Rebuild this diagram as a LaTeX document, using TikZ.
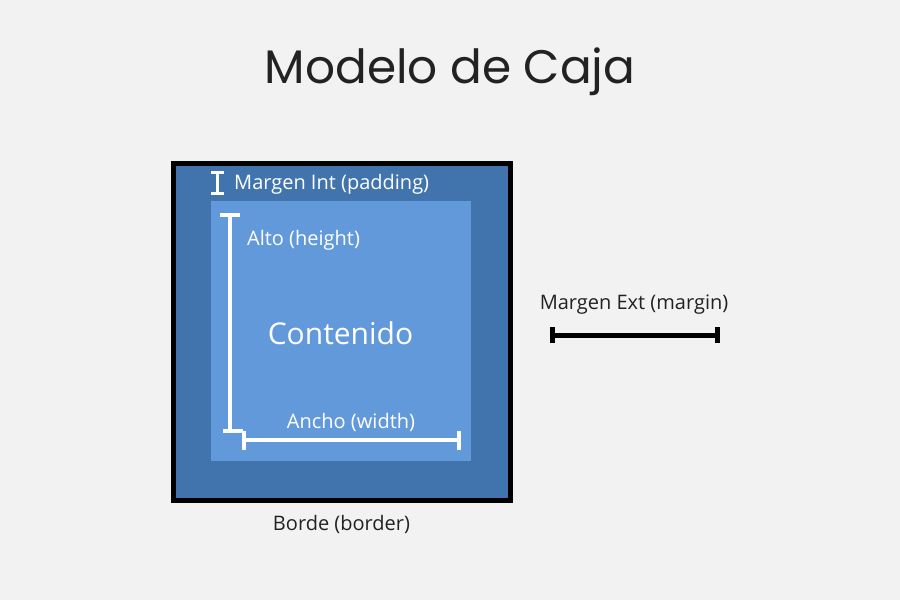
\documentclass[tikz,border=0pt]{standalone}
\usepackage{fontspec}
\setmainfont{Open Sans}
\newfontfamily\titlefont{Poppins}
\definecolor{bgc}{HTML}{F2F2F2}
\definecolor{padc}{HTML}{4174AD}
\definecolor{contc}{HTML}{6299DA}
\definecolor{inkc}{HTML}{222222}
\tikzset{
  lbl/.style={inner sep=0pt, anchor=west, font=\fontsize{20}{24}\selectfont},
  clbl/.style={inner sep=0pt, font=\fontsize{20}{24}\selectfont},
  whitebar/.style={draw=white, line width=4pt},
  blackbar/.style={draw=black, line width=5pt},
}
\begin{document}
\begin{tikzpicture}[x=1pt,y=-1pt]
\fill[bgc] (0,0) rectangle (900,600);
\useasboundingbox (0,0) rectangle (900,600);
% title
\node[inner sep=0pt, text=inkc, font=\titlefont\fontsize{47}{52}\selectfont] (title) at (450,72) {Modelo de Caja};
% border box with padding
\draw[fill=padc, draw=black, line width=5pt] (173.5,163.5) rectangle (510.5,500.5);
\node[fill=contc, minimum width=260pt, minimum height=260pt, inner sep=0pt, anchor=north west] (content) at (211,201) {};
% padding marker
\coordinate (pt) at (217.5,172);
\coordinate (pb) at (217.5,193);
\draw[white, line width=3pt] (pt) -- (pb);
\draw[white, line width=3pt] ([xshift=-6.5pt]pt) -- ([xshift=6.5pt]pt);
\draw[white, line width=3pt] ([xshift=-6.5pt]pb) -- ([xshift=6.5pt]pb);
\node[lbl, text=white] (padl) at (234,184) {Margen Int (padding)};
% height bar
\coordinate (ht) at (230,215);
\coordinate (hb) at (230,431);
\draw[whitebar] (ht) -- (hb);
\draw[whitebar] ([xshift=-10pt]ht) -- ([xshift=10pt]ht);
\draw[whitebar] ([xshift=-7pt]hb) -- ([xshift=13pt]hb);
\node[lbl, text=white] (altol) at (247,240) {Alto (height)};
% width bar
\coordinate (wl) at (243.5,439.5);
\coordinate (wr) at (458.5,439.5);
\draw[whitebar] (wl) -- (wr);
\draw[whitebar] ([yshift=-10pt]wl) -- ([yshift=9pt]wl);
\draw[whitebar] ([yshift=-10pt]wr) -- ([yshift=9pt]wr);
\node[clbl, text=white] (anchol) at (351,422) {Ancho (width)};
% content label
\node[inner sep=0pt, font=\fontsize{30}{36}\selectfont, text=white] (contl) at (340.5,333) {Contenido};
% border label
\node[clbl, text=inkc] (bordl) at (341.5,524) {Borde (border)};
% margin
\node[clbl, text=inkc] (margl) at (634,305) {Margen Ext (margin)};
\coordinate (ml) at (552.5,335);
\coordinate (mr) at (717.5,335);
\draw[blackbar] (ml) -- (mr);
\draw[blackbar] ([yshift=-8pt]ml) -- ([yshift=8pt]ml);
\draw[blackbar] ([yshift=-8pt]mr) -- ([yshift=8pt]mr);
\end{tikzpicture}
\end{document}
